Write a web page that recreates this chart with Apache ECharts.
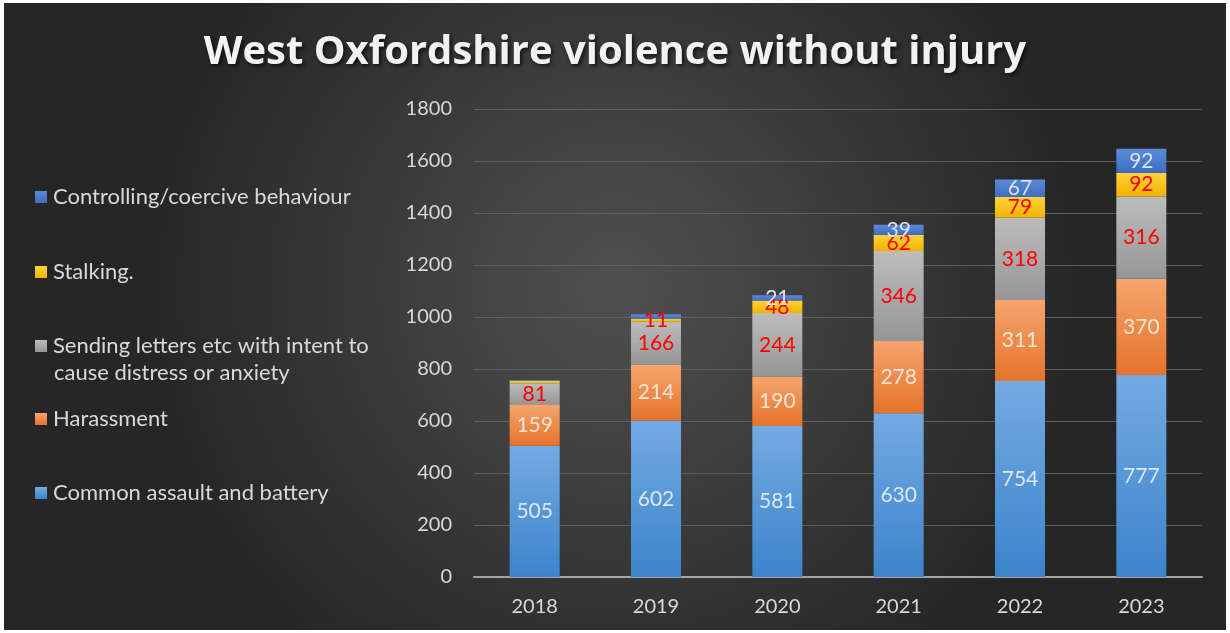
<!DOCTYPE html>
<html>
<head>
<meta charset="utf-8">
<script src="https://cdn.jsdelivr.net/npm/echarts@6/dist/echarts.min.js"></script>
<style>
  html, body { margin: 0; padding: 0; background: #fff; }
  #chart { position: absolute; left: 4px; top: 3px; width: 1222px; height: 627px; }
</style>
</head>
<body>
<div id="chart"></div>
<script>
const years = ['2018', '2019', '2020', '2021', '2022', '2023']
const commonAssault = [505, 602, 581, 630, 754, 777]
const harassment = [159, 214, 190, 278, 311, 370]
const sendingLetters = [81, 166, 244, 346, 318, 316]
const stalking = [9, 11, 48, 62, 79, 92]
const controlling = [4, 18, 21, 39, 67, 92]
const yTicks = [0, 200, 400, 600, 800, 1000, 1200, 1400, 1600, 1800]

const FONT = 'Lato, "Open Sans", sans-serif'

function grad(top, bottom) {
  return new echarts.graphic.LinearGradient(0, 0, 0, 1, [
    { offset: 0, color: top },
    { offset: 1, color: bottom }
  ])
}

function makeSeries(name, data, top, bottom, labelColor, minLabel) {
  return {
    name,
    type: 'bar',
    stack: 'total',
    barWidth: 50,
    data,
    itemStyle: { color: grad(top, bottom) },
    label: {
      show: true,
      position: 'inside',
      color: labelColor,
      fontFamily: FONT,
      fontSize: 21,
      formatter: (p) => (p.value >= minLabel ? String(p.value) : '')
    }
  }
}

// one legend per entry so the vertical spacing can follow the original
function legendItem(name, top, text) {
  return {
    data: [name],
    left: 31,
    top,
    padding: 0,
    itemWidth: 12,
    itemHeight: 12,
    icon: 'rect',
    itemGap: 0,
    selectedMode: false,
    formatter: () => text,
    textStyle: { color: '#d9d9d9', fontFamily: FONT, fontSize: 22, padding: [0, 0, 0, 1] }
  }
}

const chart = echarts.init(document.getElementById('chart'))
chart.setOption({
  backgroundColor: {
    type: 'radial', x: 0.5, y: 0.45, r: 0.75,
    colorStops: [
      { offset: 0, color: '#505050' },
      { offset: 1, color: '#262626' }
    ]
  },
  title: {
    text: 'West Oxfordshire violence without injury',
    left: 'center',
    top: 25,
    textStyle: {
      color: '#f2f2f2', fontFamily: '"Open Sans", sans-serif', fontWeight: 'bold', fontSize: 40,
      textShadowColor: 'rgba(0,0,0,0.7)', textShadowBlur: 4, textShadowOffsetX: 2, textShadowOffsetY: 2
    }
  },
  legend: [
    legendItem('Controlling/coercive behaviour', 183, 'Controlling/coercive behaviour'),
    legendItem('Stalking.', 258, 'Stalking.'),
    legendItem('Sending letters etc with intent to cause distress or anxiety', 332, 'Sending letters etc with intent to'),
    legendItem('Harassment', 405, 'Harassment'),
    legendItem('Common assault and battery', 479, 'Common assault and battery')
  ],
  graphic: [{
    type: 'text',
    left: 50,
    top: 359,
    style: { text: 'cause distress or anxiety', fill: '#d9d9d9', font: '22px ' + FONT }
  }],
  grid: { left: 470, right: 24, top: 106, bottom: 53 },
  xAxis: {
    type: 'category',
    data: years,
    axisLine: { show: true, lineStyle: { color: '#a6a6a6', width: 2 } },
    axisTick: { show: false },
    axisLabel: { color: '#d9d9d9', fontFamily: FONT, fontSize: 20, margin: 20 }
  },
  yAxis: {
    type: 'value',
    min: yTicks[0],
    max: yTicks[yTicks.length - 1],
    interval: 200,
    axisLine: { show: false },
    axisTick: { show: false },
    axisLabel: { color: '#d9d9d9', fontFamily: FONT, fontSize: 20, margin: 22, formatter: (v) => String(v) },
    splitLine: { lineStyle: { color: '#5e5e5e', width: 1 } }
  },
  series: [
    makeSeries('Common assault and battery', commonAssault, '#74aae2', '#3c84cb', '#dde8f4', 0),
    makeSeries('Harassment', harassment, '#f5a56e', '#e5732b', '#fbe5d6', 0),
    makeSeries('Sending letters etc with intent to cause distress or anxiety', sendingLetters, '#bcbcbc', '#969696', '#ff0000', 0),
    makeSeries('Stalking.', stalking, '#ffd33d', '#f2b300', '#ff0000', 10),
    makeSeries('Controlling/coercive behaviour', controlling, '#5d8bd9', '#3d6cc2', '#dae3f3', 20)
  ]
})
</script>
</body>
</html>
